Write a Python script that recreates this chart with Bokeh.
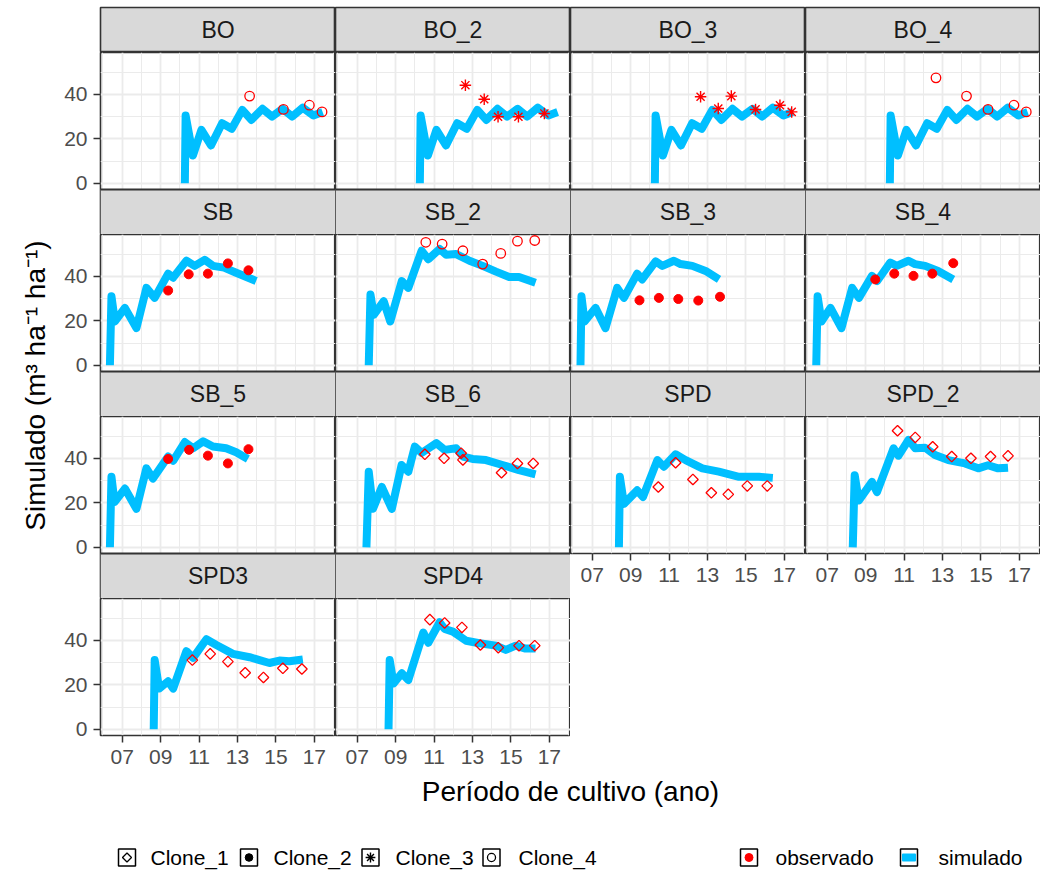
import math
from bokeh.plotting import figure
from bokeh.models import Range1d, FixedTicker, LinearAxis, Grid, Spacer, Span
from bokeh.layouts import row, column
from bokeh.embed import file_html
from bokeh.resources import INLINE
from bokeh.core.properties import value

# ---------------- data ----------------
panels = ["BO", "BO_2", "BO_3", "BO_4",
          "SB", "SB_2", "SB_3", "SB_4",
          "SB_5", "SB_6", "SPD", "SPD_2",
          "SPD3", "SPD4"]
panel_clone = ["Clone_4", "Clone_3", "Clone_3", "Clone_4",
               "Clone_2", "Clone_4", "Clone_2", "Clone_2",
               "Clone_2", "Clone_1", "Clone_1", "Clone_1",
               "Clone_1", "Clone_1"]
clones = ["Clone_1", "Clone_2", "Clone_3", "Clone_4"]

x_ticks = [2007, 2009, 2011, 2013, 2015, 2017]
x_tick_labels = ["07", "09", "11", "13", "15", "17"]
x_minor = [2006, 2008, 2010, 2012, 2014, 2016, 2018]
y_ticks = [0, 20, 40]
y_minor = [10, 30, 50]

# simulated (blue line) -- decimal year, m3/ha/yr
sim_BO_x = [2010.26, 2010.30, 2010.68, 2011.12, 2011.62, 2012.20, 2012.70, 2013.25,
            2013.72, 2014.30, 2014.80, 2015.35, 2015.85, 2016.40, 2016.95, 2017.43]
sim_BO_y = [0, 30.5, 12.5, 24.0, 17.0, 27.0, 24.5, 33.0, 28.5, 33.5, 30.0, 33.5, 30.0, 34.0, 30.5, 32.0]

sim_SB_x = [2006.36, 2006.44, 2006.62, 2007.14, 2007.74, 2008.26, 2008.69, 2009.39,
            2009.65, 2010.34, 2010.77, 2011.29, 2011.72, 2012.30, 2012.90, 2013.97]
sim_SB_y = [0, 31.0, 19.7, 25.8, 16.7, 34.8, 30.3, 41.2, 39.4, 47.0, 44.7, 47.4, 44.7, 43.9, 41.7, 37.9]

sim_SB2_x = [2007.60, 2007.69, 2007.86, 2008.38, 2008.72, 2009.32, 2009.66, 2010.35, 2010.70,
             2011.29, 2011.63, 2012.15, 2012.84, 2013.53, 2014.22, 2014.91, 2015.42, 2016.28]
sim_SB2_y = [0, 31.8, 22.7, 28.8, 19.7, 37.9, 34.8, 51.5, 47.7, 52.3, 49.7, 50.0, 47.0, 44.7,
             42.1, 39.7, 39.7, 37.1]

sim_SB3_x = [2006.39, 2006.44, 2006.60, 2007.17, 2007.69, 2008.30, 2008.65, 2009.34,
             2009.60, 2010.30, 2010.65, 2011.25, 2011.60, 2012.21, 2012.90, 2013.60]
sim_SB3_y = [0, 31.0, 19.7, 25.8, 16.7, 34.8, 30.3, 41.2, 38.6, 46.7, 44.7, 47.0, 45.5, 44.7, 42.4, 38.6]

sim_SB4_x = [2006.43, 2006.50, 2006.70, 2007.17, 2007.74, 2008.30, 2008.65, 2009.33,
             2009.60, 2010.28, 2010.62, 2011.23, 2011.57, 2012.10, 2012.77, 2013.56]
sim_SB4_y = [0, 31.0, 19.7, 25.8, 16.7, 34.8, 30.3, 40.2, 37.9, 46.2, 44.7, 47.0, 45.5, 44.7, 42.4, 38.6]

sim_SB5_x = [2006.36, 2006.44, 2006.60, 2007.14, 2007.74, 2008.26, 2008.60, 2009.39,
             2009.65, 2010.26, 2010.69, 2011.21, 2011.72, 2012.41, 2012.93, 2013.54]
sim_SB5_y = [0, 31.7, 20.3, 26.4, 17.3, 35.5, 30.9, 40.8, 38.9, 47.3, 44.5, 47.6, 45.3, 44.5, 42.7, 39.7]

sim_SB6_x = [2007.48, 2007.60, 2007.82, 2008.28, 2008.80, 2009.31, 2009.66, 2010.00, 2010.35,
             2011.12, 2011.55, 2012.15, 2012.50, 2013.00, 2013.70, 2014.56, 2015.42, 2016.28]
sim_SB6_y = [0, 34.0, 17.3, 27.1, 17.3, 37.0, 34.0, 45.3, 42.4, 46.8, 43.8, 44.5, 40.8, 39.7,
             39.2, 37.0, 34.7, 32.8]

sim_SPD_x = [2008.39, 2008.44, 2008.65, 2009.34, 2009.64, 2010.39, 2010.73, 2011.34,
             2011.86, 2012.73, 2013.59, 2014.64, 2015.07, 2015.68, 2016.40]
sim_SPD_y = [0, 31.7, 19.5, 25.6, 22.6, 39.2, 36.2, 41.8, 39.2, 35.5, 34.0, 31.7, 31.7, 31.7, 31.2]

sim_SPD2_x = [2008.33, 2008.43, 2008.64, 2009.33, 2009.59, 2010.45, 2010.71, 2011.23, 2011.58,
              2012.09, 2012.61, 2013.30, 2014.17, 2014.86, 2015.37, 2015.89, 2016.41]
sim_SPD2_y = [0, 32.4, 21.0, 29.4, 24.8, 44.5, 41.2, 48.3, 44.5, 44.8, 41.5, 39.2, 37.7, 35.5,
              36.9, 35.5, 35.8]

sim_SPD3_x = [2008.64, 2008.69, 2008.92, 2009.39, 2009.65, 2010.34, 2010.69, 2011.38,
              2011.90, 2012.76, 2013.63, 2014.66, 2015.18, 2015.70, 2016.40]
sim_SPD3_y = [0, 31.1, 18.3, 21.6, 18.3, 35.1, 32.1, 40.5, 37.9, 33.9, 32.4, 29.8, 30.9, 30.6, 31.4]

sim_SPD4_x = [2008.63, 2008.69, 2008.89, 2009.32, 2009.66, 2010.44, 2010.70, 2011.29, 2011.55,
              2011.98, 2012.67, 2013.36, 2014.22, 2014.73, 2015.25, 2015.76, 2016.28]
sim_SPD4_y = [0, 31.1, 20.6, 25.2, 22.1, 43.5, 38.9, 48.1, 45.1, 43.9, 39.8, 38.7, 37.6, 35.7,
              37.6, 36.3, 36.3]

# observed (red symbols)
obs_BO_x = [2013.63, 2015.39, 2016.74, 2017.40]
obs_BO_y = [39.2, 33.2, 35.1, 32.1]
obs_BO2_x = [2012.63, 2013.61, 2014.33, 2015.39, 2016.74]
obs_BO2_y = [44.1, 37.8, 29.9, 29.9, 31.4]
obs_BO3_x = [2012.64, 2013.56, 2014.24, 2015.50, 2016.77, 2017.38]
obs_BO3_y = [38.9, 33.6, 39.2, 33.2, 35.1, 32.1]
obs_BO4_x = [2012.66, 2014.25, 2015.37, 2016.72, 2017.36]
obs_BO4_y = [47.4, 39.2, 33.2, 35.1, 32.1]
obs_SB_x = [2009.39, 2010.46, 2011.46, 2012.50, 2013.57]
obs_SB_y = [33.6, 40.9, 41.2, 45.8, 42.7]
obs_SB2_x = [2010.57, 2011.42, 2012.50, 2013.53, 2014.47, 2015.34, 2016.24]
obs_SB2_y = [55.3, 54.5, 51.5, 45.5, 50.3, 55.8, 56.1]
obs_SB3_x = [2009.46, 2010.47, 2011.48, 2012.52, 2013.65]
obs_SB3_y = [29.2, 30.3, 29.8, 29.1, 30.8]
obs_SB4_x = [2009.50, 2010.49, 2011.49, 2012.47, 2013.56]
obs_SB4_y = [38.6, 41.2, 40.2, 41.2, 45.9]
obs_SB5_x = [2009.39, 2010.48, 2011.46, 2012.50, 2013.57]
obs_SB5_y = [39.7, 43.8, 41.2, 37.7, 44.1]
obs_SB6_x = [2010.52, 2011.52, 2012.41, 2012.50, 2014.51, 2015.34, 2016.16]
obs_SB6_y = [41.8, 40.0, 42.3, 39.3, 33.5, 37.7, 37.7]
obs_SPD_x = [2010.44, 2011.34, 2012.24, 2013.20, 2014.08, 2015.07, 2016.11]
obs_SPD_y = [27.1, 38.0, 30.5, 24.5, 23.8, 27.6, 27.6]
obs_SPD2_x = [2010.66, 2011.58, 2012.49, 2013.48, 2014.48, 2015.50, 2016.41]
obs_SPD2_y = [52.4, 49.4, 45.2, 40.8, 40.0, 40.8, 41.1]
obs_SPD3_x = [2010.65, 2011.58, 2012.50, 2013.40, 2014.35, 2015.36, 2016.35]
obs_SPD3_y = [31.1, 33.9, 30.4, 25.4, 23.3, 27.4, 27.1]
obs_SPD4_x = [2010.78, 2011.55, 2012.45, 2013.41, 2014.34, 2015.42, 2016.24]
obs_SPD4_y = [49.3, 47.8, 45.8, 37.9, 36.7, 37.6, 37.6]

sim_series = {
    "BO": (sim_BO_x, sim_BO_y), "BO_2": (sim_BO_x, sim_BO_y),
    "BO_3": (sim_BO_x, sim_BO_y), "BO_4": (sim_BO_x, sim_BO_y),
    "SB": (sim_SB_x, sim_SB_y), "SB_2": (sim_SB2_x, sim_SB2_y),
    "SB_3": (sim_SB3_x, sim_SB3_y), "SB_4": (sim_SB4_x, sim_SB4_y),
    "SB_5": (sim_SB5_x, sim_SB5_y), "SB_6": (sim_SB6_x, sim_SB6_y),
    "SPD": (sim_SPD_x, sim_SPD_y), "SPD_2": (sim_SPD2_x, sim_SPD2_y),
    "SPD3": (sim_SPD3_x, sim_SPD3_y), "SPD4": (sim_SPD4_x, sim_SPD4_y),
}
obs_series = {
    "BO": (obs_BO_x, obs_BO_y), "BO_2": (obs_BO2_x, obs_BO2_y),
    "BO_3": (obs_BO3_x, obs_BO3_y), "BO_4": (obs_BO4_x, obs_BO4_y),
    "SB": (obs_SB_x, obs_SB_y), "SB_2": (obs_SB2_x, obs_SB2_y),
    "SB_3": (obs_SB3_x, obs_SB3_y), "SB_4": (obs_SB4_x, obs_SB4_y),
    "SB_5": (obs_SB5_x, obs_SB5_y), "SB_6": (obs_SB6_x, obs_SB6_y),
    "SPD": (obs_SPD_x, obs_SPD_y), "SPD_2": (obs_SPD2_x, obs_SPD2_y),
    "SPD3": (obs_SPD3_x, obs_SPD3_y), "SPD4": (obs_SPD4_x, obs_SPD4_y),
}

x_title = "Período de cultivo (ano)"
y_title = "Simulado (m³ ha⁻¹ ha⁻¹)"
fill_labels = ["observado", "simulado"]

# ---------------- style ----------------
FONT = "Liberation Sans"
BLUE = "#00BFFF"
RED = "#FF0000"
BORDER = "#333333"
GRID = "#EBEBEB"
STRIP = "#D9D9D9"
XMIN, XMAX = 2005.87, 2018.10
YMIN, YMAX = -2.8, 58.8
PW, PH, SH = 235, 137, 45
TOP = 7
LB = 45          # left border of first column (y axis)
XB = 38          # bottom border for panels with x axis
NCOL = 4
UPP = (YMAX - YMIN) / PH      # data units per pixel (vertical)
STRIP_U = SH * UPP            # strip height in data units

marker_style = {
    "Clone_1": dict(marker="square", angle=math.pi / 4, size=7.5, fill_color=None, line_width=1.3),
    "Clone_2": dict(marker="circle", size=9, line_width=1),
    "Clone_3": dict(marker="asterisk", size=11.5, line_width=1.4),
    "Clone_4": dict(marker="circle", size=9.5, fill_color=None, line_width=1.3),
}


def base_fig(fw, fh, xr, yr, **kw):
    f = figure(frame_width=fw, frame_height=fh, x_range=xr, y_range=yr,
               x_axis_location=None, y_axis_location=None,
               toolbar_location=None, output_backend="svg", min_border=0, **kw)
    f.center = []
    return f


def strip_text(f, name, x, y):
    f.text(x=[x], y=[y], text=[name], text_align="center", text_baseline="middle",
           text_font=value(FONT), text_font_size="23px", text_color="#1A1A1A")


def make_top_strip(name, first_col):
    s = base_fig(PW, SH, Range1d(0, 1), Range1d(0, 1),
                 min_border_left=LB if first_col else 0, min_border_top=TOP,
                 background_fill_color=STRIP,
                 outline_line_color=BORDER, outline_line_width=1.6)
    strip_text(s, name, 0.5, 0.5)
    return s


def make_panel(name, clone, first_col, show_x, next_name):
    ylo = YMIN - STRIP_U if next_name else YMIN
    fh = PH + SH if next_name else PH
    p = base_fig(PW, fh, Range1d(XMIN, XMAX), Range1d(ylo, YMAX),
                 min_border_left=LB if first_col else 0,
                 min_border_bottom=XB if show_x else 0,
                 background_fill_color="white",
                 outline_line_color=BORDER, outline_line_width=1.6)
    xt = FixedTicker(ticks=x_ticks, minor_ticks=x_minor)
    yt = FixedTicker(ticks=y_ticks, minor_ticks=y_minor)
    p.add_layout(Grid(dimension=0, ticker=xt, grid_line_color=GRID, grid_line_width=1.8,
                      minor_grid_line_color=GRID, minor_grid_line_width=1.0))
    p.add_layout(Grid(dimension=1, ticker=yt, grid_line_color=GRID, grid_line_width=1.8,
                      minor_grid_line_color=GRID, minor_grid_line_width=1.0))
    axis_kw = dict(axis_line_color=None, major_tick_line_color=BORDER, major_tick_line_width=1.5,
                   major_tick_out=7, major_tick_in=0, minor_tick_line_color=None,
                   major_label_text_font=FONT, major_label_text_font_size="21px",
                   major_label_text_color="#4D4D4D")
    if first_col:
        p.add_layout(LinearAxis(ticker=yt, major_label_standoff=6, **axis_kw), "left")
    if show_x:
        overrides = {t: lab for t, lab in zip(x_ticks, x_tick_labels)}
        p.add_layout(LinearAxis(ticker=xt, major_label_overrides=overrides,
                                major_label_standoff=7, **axis_kw), "below")
    sx, sy = sim_series[name]
    p.line(sx, sy, line_color=BLUE, line_width=8, line_join="round", line_cap="butt")
    ox, oy = obs_series[name]
    st = dict(marker_style[clone])
    if "fill_color" not in st:
        st["fill_color"] = RED
    p.scatter(ox, oy, line_color=RED, **st)
    if next_name:
        # strip of the facet below, drawn in the lower part of this canvas
        p.quad(left=[XMIN], right=[XMAX], bottom=[ylo], top=[YMIN],
               fill_color=STRIP, line_color=None)
        p.add_layout(Span(location=YMIN, dimension="width", line_color=BORDER, line_width=1.8))
        strip_text(p, next_name, (XMIN + XMAX) / 2, YMIN - STRIP_U / 2)
    return p


n = len(panels)
nrows = (n + NCOL - 1) // NCOL
cols = []
for c in range(NCOL):
    idxs = [r * NCOL + c for r in range(nrows) if r * NCOL + c < n]
    items = [make_top_strip(panels[idxs[0]], c == 0)]
    for k, i in enumerate(idxs):
        last = (k == len(idxs) - 1)
        nxt = None if last else panels[idxs[k + 1]]
        items.append(make_panel(panels[i], panel_clone[i], c == 0, last, nxt))
    missing = nrows - len(idxs)
    if missing:
        items.append(Spacer(width=PW, height=missing * (SH + PH)))
    cols.append(column(*items, spacing=0))

TOTAL_H = TOP + nrows * (SH + PH) + XB
YT_W = 100 - LB
yt_fig = base_fig(YT_W, TOTAL_H, Range1d(0, YT_W), Range1d(TOTAL_H, 0),
                  outline_line_color=None)
yt_fig.text(x=[35], y=[385], text=[y_title], angle=math.pi / 2, text_align="center",
            text_baseline="middle", text_font=value(FONT), text_font_size="28px",
            text_color="black")

TOTAL_W = YT_W + LB + NCOL * PW
BOT_H = 874 - TOTAL_H - 2
bot = base_fig(TOTAL_W, BOT_H, Range1d(0, TOTAL_W), Range1d(BOT_H, 0), outline_line_color=None)
bot.text(x=[570], y=[18], text=[x_title], text_align="center", text_baseline="middle",
         text_font=value(FONT), text_font_size="28px", text_color="black")

# legends (bottom)
LY = 84
key_x = [126.5, 248.5, 370, 491]
lab_x = [150, 273, 395, 518]
bot.rect(x=key_x, y=[LY] * 4, width=17, height=17, fill_color="white",
         line_color="black", line_width=1.5)
for cl, kx, lx in zip(clones, key_x, lab_x):
    st = dict(marker_style[cl])
    if "fill_color" not in st:
        st["fill_color"] = "black"
    st["size"] = st["size"] * 0.85
    bot.scatter([kx], [LY], line_color="black", **st)
    bot.text(x=[lx], y=[LY], text=[cl], text_align="left", text_baseline="middle",
             text_font=value(FONT), text_font_size="21px", text_color="black")

fk_x = [748.5, 908.5]
fl_x = [775, 938]
bot.rect(x=fk_x, y=[LY] * 2, width=17, height=17, fill_color="white",
         line_color="black", line_width=1.5)
bot.scatter([fk_x[0]], [LY], marker="circle", size=8, fill_color=RED, line_color=RED)
bot.rect(x=[fk_x[1]], y=[LY], width=12, height=6, fill_color=BLUE, line_color=BLUE,
         line_width=2, line_join="round")
for lab, lx in zip(fill_labels, fl_x):
    bot.text(x=[lx], y=[LY], text=[lab], text_align="left", text_baseline="middle",
             text_font=value(FONT), text_font_size="21px", text_color="black")

layout = column(row(yt_fig, *cols, spacing=0), bot, spacing=0)

open("out.html", "w").write(file_html(layout, INLINE))
